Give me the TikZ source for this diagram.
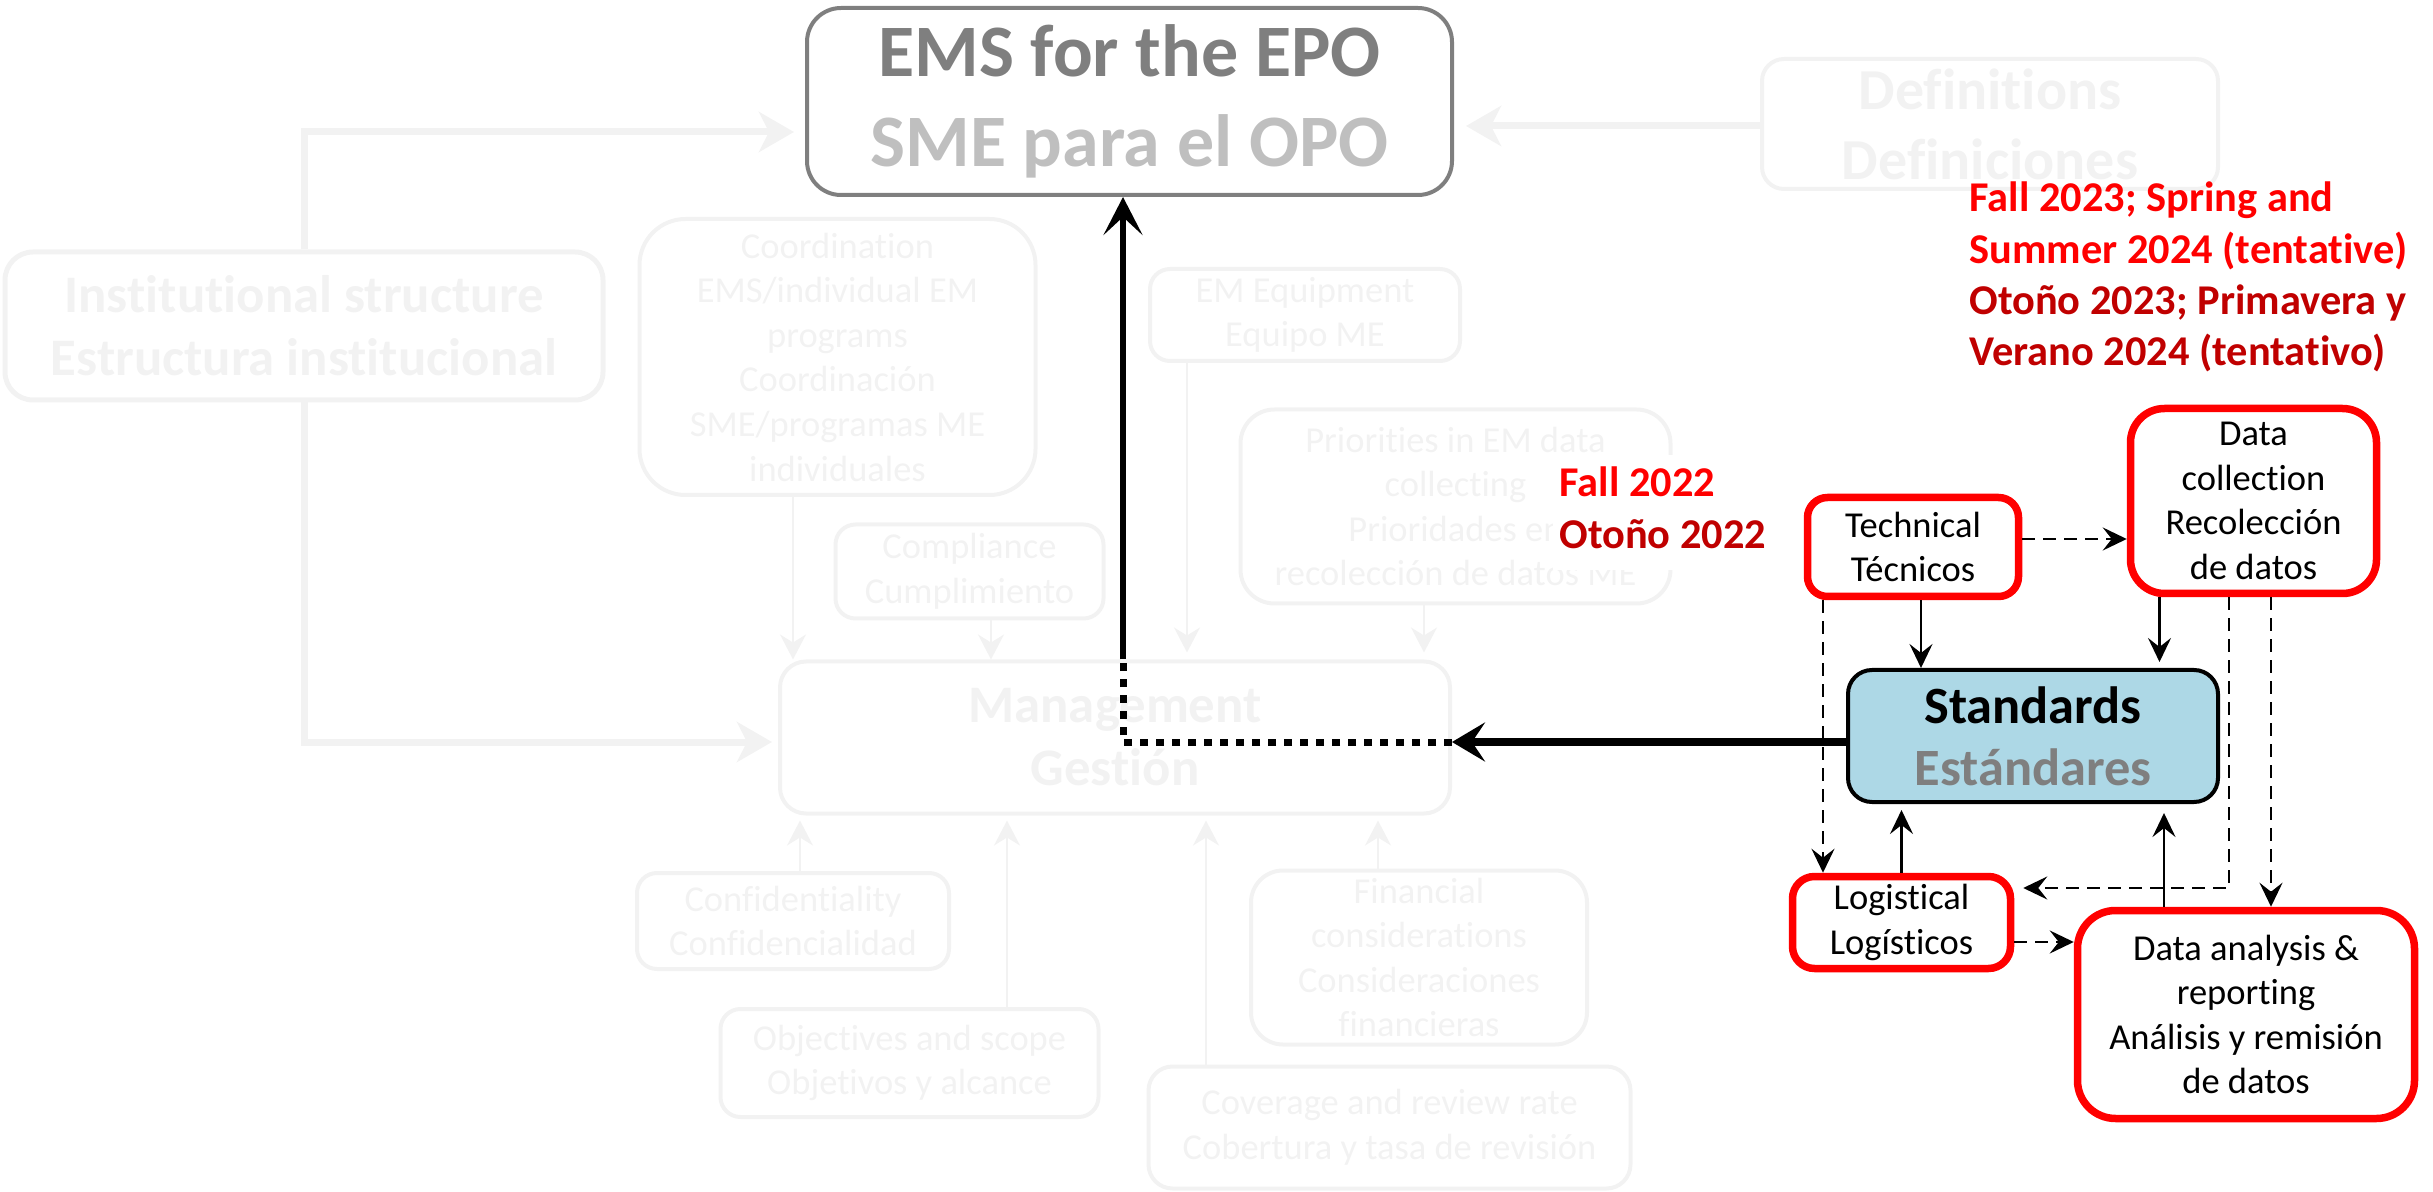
\documentclass[tikz,border=0pt]{standalone}
\usepackage{fontspec}
\setmainfont{Carlito}[Ligatures=NoCommon]
\usetikzlibrary{arrows.meta}
\definecolor{fadec}{HTML}{F2F2F2}
\definecolor{emsA}{HTML}{7F7F7F}
\definecolor{emsB}{HTML}{BFBFBF}
\definecolor{stdfill}{HTML}{ADD8E6}
\definecolor{redA}{HTML}{FF0000}
\definecolor{redB}{HTML}{C00000}
\newcommand\fsreg{\fontsize{18.25}{22.3}\selectfont}
\newcommand\fsbig{\fontsize{26.4}{31.5}\selectfont\bfseries}
\newcommand\fsstd{\fontsize{26.2}{31}\selectfont\bfseries}
\newcommand\fsems{\fontsize{37}{45}\selectfont\bfseries}
\newcommand\fsdef{\fontsize{29}{35}\selectfont\bfseries}
\newcommand\fsred{\fontsize{21.2}{25.6}\selectfont\bfseries}
\begin{document}
\begin{tikzpicture}[x=0.5pt,y=-0.5pt,
  fbox/.style={draw=fadec, line width=2pt, text=fadec, align=center, inner sep=0pt, font=\fsreg},
  rbox/.style={draw=redA, line width=3.75pt, fill=white, text=black, align=center, inner sep=0pt, font=\fsreg},
  fthick/.style={draw=fadec, line width=3.5pt, -{Stealth[length=17.5pt,width=20pt,inset=5pt]}},
  fthin/.style={draw=fadec, line width=1pt, -{Stealth[length=12.5pt,width=13pt,inset=4pt]}},
  karr/.style={line width=1.25pt, -{Stealth[length=12pt,width=11.5pt,inset=4.5pt]}},
  kdash/.style={karr, dash pattern=on 6.5pt off 4pt},
  mainh/.style={line width=4pt, -{Stealth[length=16.5pt,width=19.5pt,inset=6.5pt]}},
  mainv/.style={line width=3pt, -{Stealth[length=19pt,width=19.5pt,inset=9pt]}},
  maindot/.style={line width=3.5pt, dash pattern=on 4pt off 4pt},
  redlabel/.style={anchor=base west, inner sep=0pt, align=left}
]
\useasboundingbox (0,0) rectangle (2433,1192);

% ---------- EMS box ----------
\node[draw=emsA, line width=2pt, rounded corners=17pt, align=center, inner sep=0pt, font=\fsems, text=emsA, minimum width=322.5pt, minimum height=93.5pt] (ems) at (1129.5,101.5) {EMS for the EPO\\\textcolor{emsB}{SME para el OPO}};

% ---------- faded context ----------
\node[fbox, font=\fsdef, rounded corners=11pt, minimum width=228pt, minimum height=65pt] (def) at (1990,124) {Definitions\\Definiciones};
\node[fbox, font=\fsbig, line width=2.5pt, rounded corners=14pt, minimum width=299pt, minimum height=74pt] (inst) at (304,326) {Institutional structure\\Estructura institucional};
\node[fbox, rounded corners=23pt, minimum width=198pt, minimum height=138pt] (coord) at (837.5,357) {Coordination\\EMS/individual EM\\programs\\Coordinación\\SME/programas ME\\individuales};
\node[fbox, rounded corners=10pt, minimum width=134pt, minimum height=47pt] (comp) at (969.5,571.5) {Compliance\\Cumplimiento};
\node[fbox, rounded corners=10pt, minimum width=155pt, minimum height=46pt] (emeq) at (1305,315) {EM Equipment\\Equipo ME};
\node[fbox, rounded corners=17pt, minimum width=215pt, minimum height=97pt] (prio) at (1455.5,506.5) {Priorities in EM data\\collecting\\Prioridades en\\recolección de datos ME};
\node[fbox, font=\fsbig, rounded corners=13pt, minimum width=335pt, minimum height=76pt] (mgmt) at (1115,737.5) {Management\\Gestión};
\node[fbox, rounded corners=10pt, minimum width=156pt, minimum height=48pt] (conf) at (793,921) {Confidentiality\\Confidencialidad};
\node[fbox, rounded corners=10pt, minimum width=189pt, minimum height=54pt] (obj) at (909.5,1063) {Objectives and scope\\Objetivos y alcance};
\node[fbox, rounded corners=16pt, minimum width=168pt, minimum height=87pt] (fin) at (1419,957.5) {Financial\\considerations\\Consideraciones\\financieras};
\node[fbox, rounded corners=12pt, minimum width=241pt, minimum height=61pt] (cov) at (1389.5,1127.5) {Coverage and review rate\\Cobertura y tasa de revisión};

% faded connectors
\draw[fthick, shorten >=5.5pt] (inst.north) |- ([yshift=-15.25pt]ems.west);
\draw[fthick, shorten >=6pt] ([yshift=-1pt]def.west) -- ([yshift=-1pt]def.west -| ems.east);
\draw[fthick, shorten >=3pt] (inst.south) |- ([yshift=-2.25pt]mgmt.west);
\draw[fthin] ([xshift=-22.25pt]coord.south) -- ([xshift=-22.25pt]coord.south |- mgmt.north);
\draw[fthin] ([xshift=10.75pt]comp.south) -- ([xshift=10.75pt]comp.south |- mgmt.north);
\draw[fthin, shorten >=3.5pt] ([xshift=-59pt]emeq.south) -- ([xshift=-59pt]emeq.south |- mgmt.north);
\draw[fthin, shorten >=3.5pt] ([xshift=-15.75pt]prio.south) -- ([xshift=-15.75pt]prio.south |- mgmt.north);
\draw[fthin, shorten >=2.5pt] ([xshift=3.5pt]conf.north) -- ([xshift=3.5pt]conf.north |- mgmt.south);
\draw[fthin, shorten >=2.5pt] ([xshift=48.75pt]obj.north) -- ([xshift=48.75pt]obj.north |- mgmt.south);
\draw[fthin, shorten >=2.5pt] ([xshift=-91.75pt]cov.north) -- ([xshift=-91.75pt]cov.north |- mgmt.south);
\draw[fthin, shorten >=2.5pt] ([xshift=-20.5pt]fin.north) -- ([xshift=-20.5pt]fin.north |- mgmt.south);

% ---------- red labels ----------
\node[redlabel, fill=white, inner sep=3pt] (lab22) at (1553,497) {\fsred\begin{tabular}[t]{@{}l@{}}\textcolor{redA}{Fall 2022}\\\textcolor{redB}{Otoño 2022}\end{tabular}};
\node[redlabel] (lab23) at (1969,212) {\fsred\begin{tabular}[t]{@{}l@{}}\textcolor{redA}{Fall 2023; Spring and}\\\textcolor{redA}{Summer 2024 (tentative)}\\\textcolor{redB}{Otoño 2023; Primavera y}\\\textcolor{redB}{Verano 2024 (tentativo)}\end{tabular}};

% ---------- standards cluster ----------
\node[draw=black, line width=2pt, fill=stdfill, rounded corners=12pt, align=center, inner sep=0pt, font=\fsstd, minimum width=185pt, minimum height=66pt] (std) at (2033,736) {Standards\\\textcolor{emsA}{Estándares}};
\node[rbox, rounded corners=10pt, minimum width=105.5pt, minimum height=49.5pt] (tech) at (1913,547) {Technical\\Técnicos};
\node[rbox, rounded corners=17pt, minimum width=123pt, minimum height=92.5pt] (dc) at (2253.5,501) {Data\\collection\\Recolección\\de datos};
\node[rbox, rounded corners=11pt, minimum width=109pt, minimum height=46pt] (log) at (1901.5,922.5) {Logistical\\Logísticos};
\node[rbox, rounded corners=19pt, minimum width=168.5pt, minimum height=104pt] (da) at (2246,1014.5) {Data analysis \&\\reporting\\Análisis y remisión\\de datos};

% main path
\coordinate (hl) at (1452,742);
\coordinate (vc) at (1123,742);
\draw[maindot] (mgmt.east |- hl) -- (vc) -- (vc |- mgmt.north);
\draw[mainh] (std.west |- hl) -- (mgmt.east |- hl);
\draw[mainv] (vc |- mgmt.north) -- (vc |- ems.south);

% cluster connectors
\draw[karr] ([xshift=4pt]tech.south) -- ([xshift=4pt]tech.south |- std.north);
\draw[karr, shorten >=3pt] ([xshift=-47pt]dc.south) -- ([xshift=-47pt]dc.south |- std.north);
\draw[kdash] ([yshift=4pt]tech.east) -- ([yshift=4pt]tech.east -| dc.west);
\draw[kdash] ([xshift=-45pt]tech.south) -- ([xshift=-45pt]tech.south |- log.north);
\draw[kdash, shorten >=4.5pt] ([xshift=-12.25pt]dc.south) |- ([yshift=17.25pt]log.east);
\draw[kdash] ([xshift=8.75pt]dc.south) -- ([xshift=8.75pt]dc.south |- da.north);
\draw[karr, shorten >=3pt] (log.north) -- (log.north |- std.south);
\draw[karr, shorten >=4.5pt] ([xshift=-41pt]da.north) -- ([xshift=-41pt]da.north |- std.south);
\draw[kdash] ([yshift=-9.75pt]log.east) -- ([yshift=-9.75pt]log.east -| da.west);
\end{tikzpicture}
\end{document}
